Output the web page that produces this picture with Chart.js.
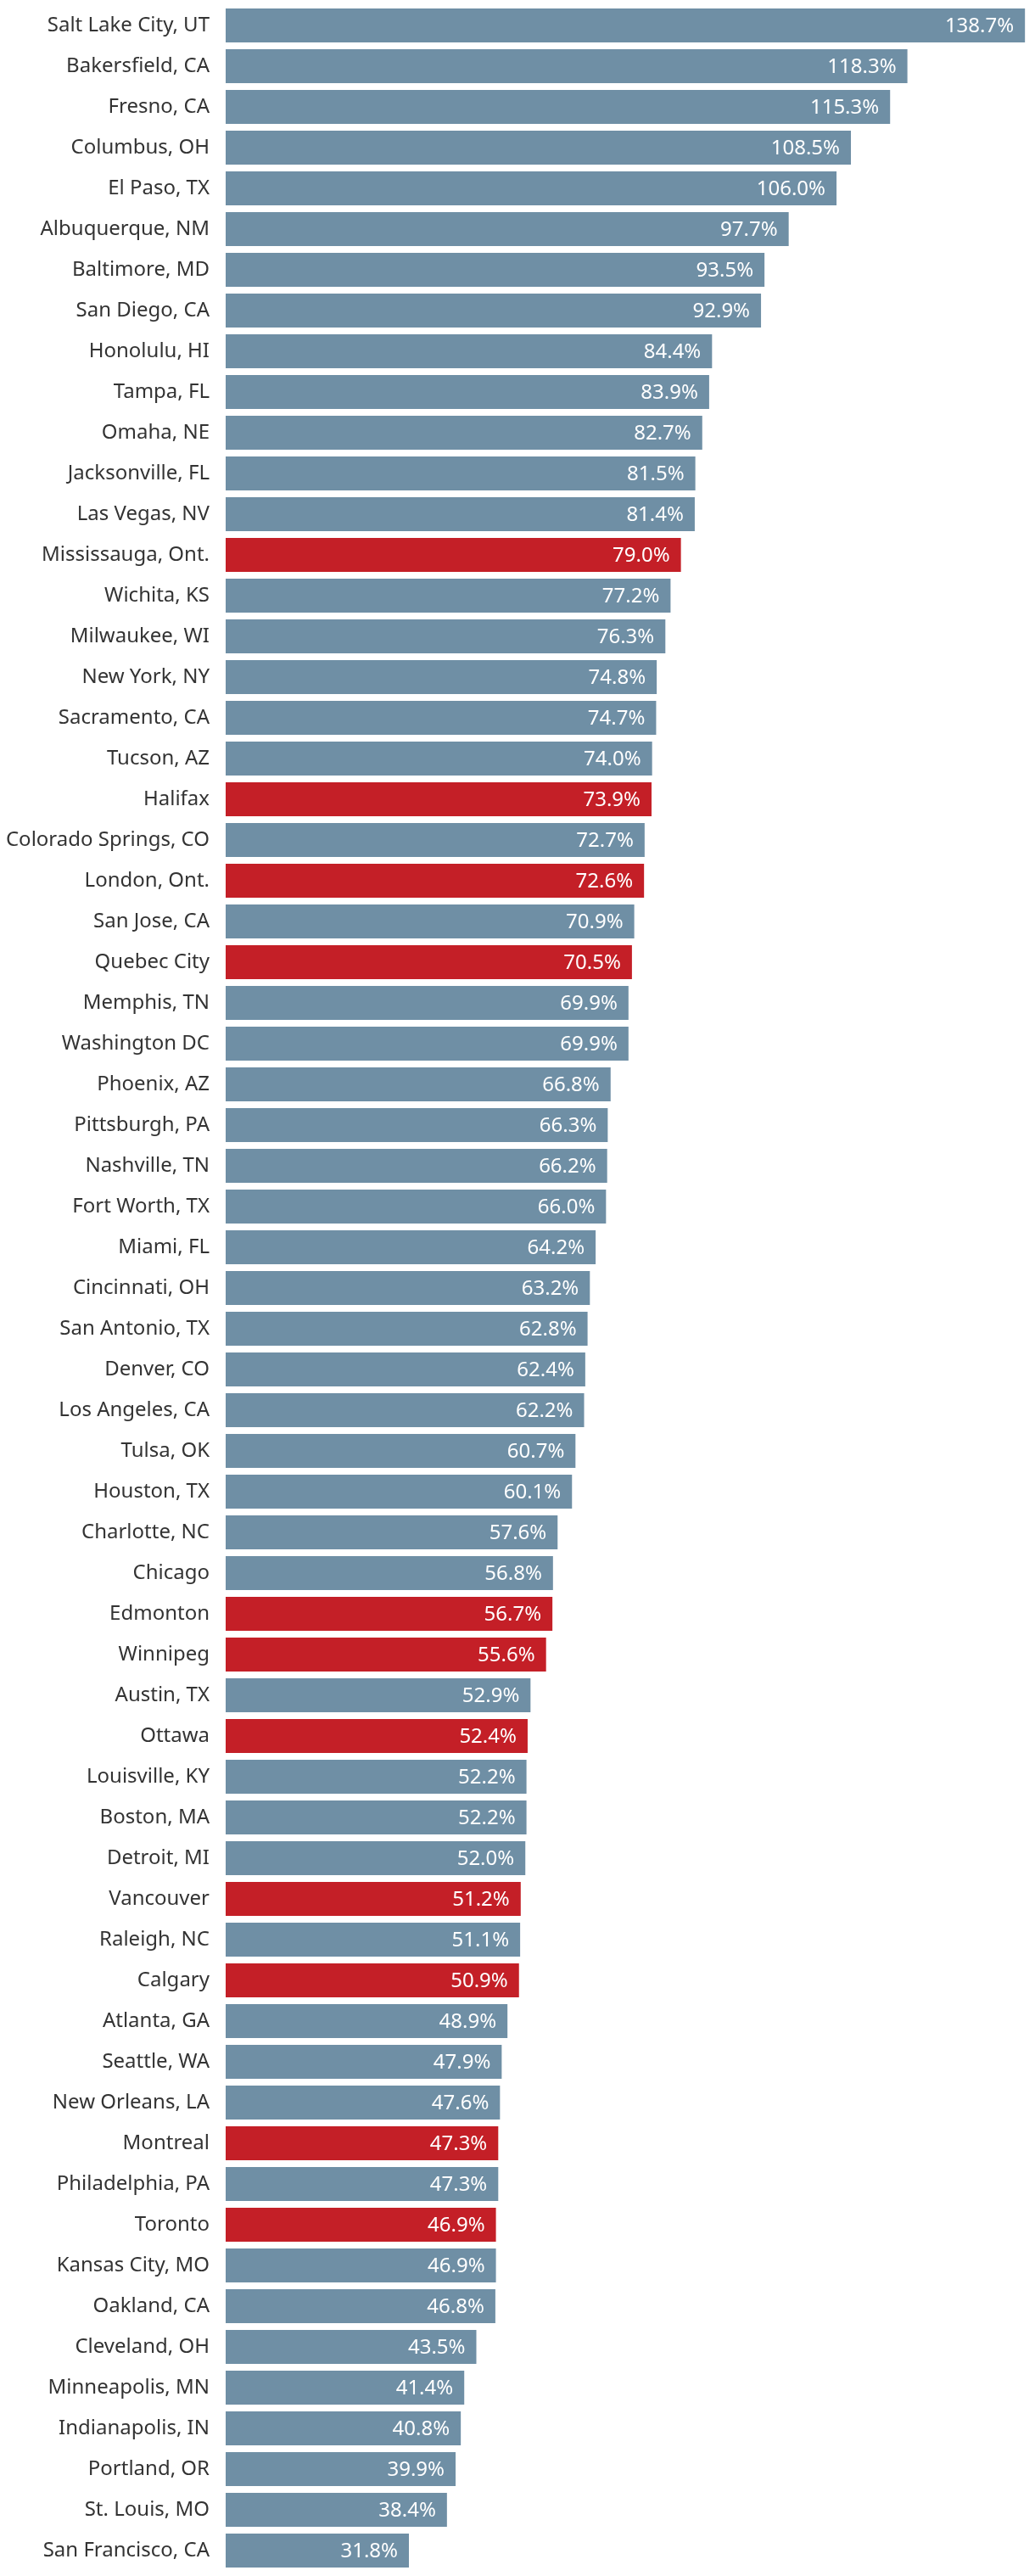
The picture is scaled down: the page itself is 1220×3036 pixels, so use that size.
<!DOCTYPE html>
<html>
<head>
<meta charset="utf-8">
<script src="https://cdn.jsdelivr.net/npm/chart.js@4/dist/chart.umd.min.js"></script>
<style>
  html, body { margin: 0; padding: 0; background: #ffffff; }
  #wrap { position: relative; width: 1220px; height: 3036px; }
</style>
</head>
<body>
<div id="wrap"><canvas id="c" width="1220" height="3036"></canvas></div>
<script>
const cities = [
  "Salt Lake City, UT","Bakersfield, CA","Fresno, CA","Columbus, OH","El Paso, TX",
  "Albuquerque, NM","Baltimore, MD","San Diego, CA","Honolulu, HI","Tampa, FL",
  "Omaha, NE","Jacksonville, FL","Las Vegas, NV","Mississauga, Ont.","Wichita, KS",
  "Milwaukee, WI","New York, NY","Sacramento, CA","Tucson, AZ","Halifax",
  "Colorado Springs, CO","London, Ont.","San Jose, CA","Quebec City","Memphis, TN",
  "Washington DC","Phoenix, AZ","Pittsburgh, PA","Nashville, TN","Fort Worth, TX",
  "Miami, FL","Cincinnati, OH","San Antonio, TX","Denver, CO","Los Angeles, CA",
  "Tulsa, OK","Houston, TX","Charlotte, NC","Chicago","Edmonton",
  "Winnipeg","Austin, TX","Ottawa","Louisville, KY","Boston, MA",
  "Detroit, MI","Vancouver","Raleigh, NC","Calgary","Atlanta, GA",
  "Seattle, WA","New Orleans, LA","Montreal","Philadelphia, PA","Toronto",
  "Kansas City, MO","Oakland, CA","Cleveland, OH","Minneapolis, MN","Indianapolis, IN",
  "Portland, OR","St. Louis, MO","San Francisco, CA"
];
const values = [
  138.7,118.3,115.3,108.5,106.0,
  97.7,93.5,92.9,84.4,83.9,
  82.7,81.5,81.4,79.0,77.2,
  76.3,74.8,74.7,74.0,73.9,
  72.7,72.6,70.9,70.5,69.9,
  69.9,66.8,66.3,66.2,66.0,
  64.2,63.2,62.8,62.4,62.2,
  60.7,60.1,57.6,56.8,56.7,
  55.6,52.9,52.4,52.2,52.2,
  52.0,51.2,51.1,50.9,48.9,
  47.9,47.6,47.3,47.3,46.9,
  46.9,46.8,43.5,41.4,40.8,
  39.9,38.4,31.8
];
const canadian = ["Mississauga, Ont.","Halifax","London, Ont.","Quebec City","Edmonton",
  "Winnipeg","Ottawa","Vancouver","Calgary","Montreal","Toronto"];

const BLUE = "#6f8fa5";
const RED = "#c41f27";
const FONT = "'Noto Sans', 'Open Sans', sans-serif";

const valueLabels = {
  id: "valueLabels",
  afterDatasetsDraw(chart) {
    const ctx = chart.ctx;
    const meta = chart.getDatasetMeta(0);
    ctx.save();
    ctx.font = "24px " + FONT;
    ctx.fillStyle = "#ffffff";
    ctx.textAlign = "right";
    ctx.textBaseline = "middle";
    meta.data.forEach((bar, i) => {
      ctx.fillText(values[i].toFixed(1) + "%", bar.x - 13, bar.y + 1);
    });
    ctx.restore();
  }
};

new Chart(document.getElementById("c"), {
  type: "bar",
  data: {
    labels: cities,
    datasets: [{
      data: values,
      backgroundColor: cities.map(c => canadian.includes(c) ? RED : BLUE),
      borderWidth: 0,
      barPercentage: 40 / 48,
      categoryPercentage: 1.0
    }]
  },
  options: {
    indexAxis: "y",
    responsive: false,
    animation: false,
    layout: { padding: { top: 6, bottom: 6, left: 0, right: 3 } },
    plugins: { legend: { display: false }, tooltip: { enabled: false } },
    scales: {
      x: { display: false, min: 0, max: 140 },
      y: {
        grid: { display: false },
        border: { display: false },
        ticks: {
          color: "#333333",
          font: { family: FONT, size: 24 },
          padding: 11,
          autoSkip: false
        },
        afterFit(scale) {
          scale.width = 266;
          scale.paddingTop = 0;
          scale.paddingBottom = 0;
        }
      }
    }
  },
  plugins: [valueLabels]
});
</script>
</body>
</html>
